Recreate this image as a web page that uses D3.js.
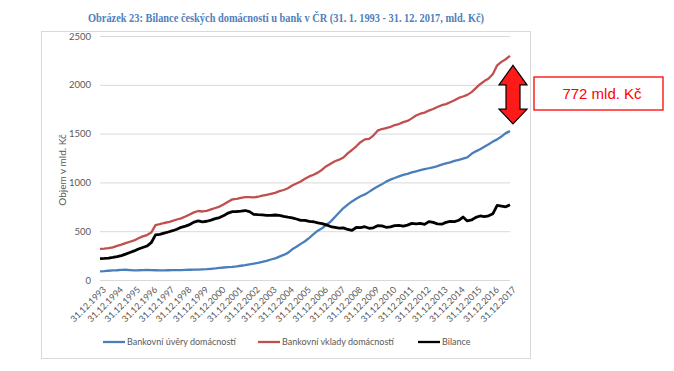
<!DOCTYPE html>
<html>
<head>
<meta charset="utf-8">
<script src="https://cdn.jsdelivr.net/npm/d3@7"></script>
<style>
  body { margin: 0; background: #fff; }
  svg { display: block; }
</style>
</head>
<body>
<svg id="chart" width="674" height="371"></svg>
<script>
// year-end labels on the category axis
const years = [1993, 1994, 1995, 1996, 1997, 1998, 1999, 2000, 2001, 2002, 2003, 2004, 2005,
  2006, 2007, 2008, 2009, 2010, 2011, 2012, 2013, 2014, 2015, 2016, 2017];
const yTicks = [0, 500, 1000, 1500, 2000, 2500];

// quarterly readings (mld. Kč), first one at 31.12.1993, last at 31.12.2017
const loans = [88, 91, 95, 98, 100, 103, 105, 102, 99, 100, 102, 104, 102, 100, 98, 99, 100, 101, 102, 102,
  104, 105, 106, 107, 109, 111, 115, 119, 124, 128, 131, 134, 139, 146, 152, 160, 167, 176, 186, 196,
  210, 221, 240, 257, 278, 315, 341, 370, 397, 432, 469, 505, 530, 566, 598, 645, 692, 737, 772, 805,
  833, 858, 877, 903, 933, 957, 980, 1008, 1028, 1045, 1061, 1077, 1088, 1103, 1114, 1125, 1135, 1145, 1155, 1166,
  1182, 1195, 1206, 1220, 1230, 1243, 1256, 1293, 1318, 1340, 1365, 1390, 1418, 1441, 1470, 1505, 1525];
const deposits = [318, 321, 327, 335, 350, 362, 378, 392, 405, 428, 447, 460, 486, 562, 572, 584, 592, 606, 620, 632,
  650, 672, 693, 707, 702, 708, 723, 738, 752, 776, 802, 826, 832, 841, 849, 850, 846, 853, 864, 872,
  883, 893, 910, 922, 940, 968, 988, 1010, 1038, 1061, 1078, 1100, 1130, 1166, 1192, 1217, 1233, 1255, 1298, 1332,
  1370, 1412, 1441, 1446, 1480, 1530, 1547, 1557, 1568, 1588, 1598, 1618, 1630, 1656, 1685, 1704, 1715, 1736, 1752, 1773,
  1791, 1802, 1822, 1841, 1866, 1880, 1897, 1925, 1965, 2006, 2038, 2064, 2110, 2200, 2235, 2262, 2296];
const balance = [218, 221, 225, 232, 240, 250, 265, 282, 298, 318, 333, 348, 382, 462, 468, 480, 492, 505, 520, 540,
  552, 568, 593, 606, 595, 602, 614, 628, 640, 660, 686, 700, 702, 705, 712, 700, 672, 669, 668, 663,
  662, 666, 662, 652, 644, 637, 625, 611, 610, 600, 597, 585, 578, 565, 548, 540, 532, 534, 518, 508,
  538, 537, 546, 530, 535, 556, 555, 540, 545, 558, 560, 552, 562, 580, 575, 580, 570, 598, 590, 575,
  572, 590, 600, 599, 612, 645, 605, 615, 642, 656, 650, 658, 680, 765, 758, 750, 770];

const seriesNames = ['Bankovní úvěry domácností', 'Bankovní vklady domácností', 'Bilance'];
const seriesColors = ['#4a7ebb', '#c0504d', '#000000'];
const gapLabel = '772 mld. Kč';

const svg = d3.select('#chart');
const grey = '#595959';

// outer chart frame
svg.append('rect')
  .attr('x', 41.5).attr('y', 31.5)
  .attr('width', 489).attr('height', 327)
  .attr('fill', '#fff').attr('stroke', '#d9d9d9');

svg.append('text')
  .attr('x', 88).attr('y', 22)
  .attr('textLength', 396).attr('lengthAdjust', 'spacingAndGlyphs')
  .style('font-family', 'Liberation Serif, serif')
  .style('font-weight', 'bold')
  .style('font-size', '11.5px')
  .attr('fill', '#4f81bd')
  .text('Obrázek 23: Bilance českých domácností u bank v ČR (31. 1. 1993 - 31. 12. 2017, mld. Kč)');

const x = d3.scaleLinear().domain([0, (years.length - 1) * 12]).range([100, 510]);
const y = d3.scaleLinear().domain([0, 2500]).range([280, 36]);

// y axis with gridlines
const gy = svg.append('g')
  .attr('transform', 'translate(100,0)')
  .call(d3.axisLeft(y).tickValues(yTicks).tickFormat(d3.format('d')).tickSize(-410).tickPadding(9));
gy.select('.domain').remove();
gy.selectAll('.tick line').attr('stroke', '#d9d9d9');
gy.selectAll('.tick text')
  .attr('fill', grey)
  .style('font-family', 'Lato, sans-serif')
  .style('font-size', '9.5px');

svg.append('text')
  .attr('transform', 'translate(66,170) rotate(-90)')
  .attr('text-anchor', 'middle')
  .attr('fill', grey)
  .style('font-family', 'Lato, sans-serif')
  .style('font-size', '10px')
  .text('Objem v mld. Kč');

// x axis labels, one per year end
const gx = svg.append('g')
  .attr('transform', 'translate(0,282)')
  .call(d3.axisBottom(x)
    .tickValues(years.map((d, i) => i * 12))
    .tickFormat((d, i) => '31.12.' + years[i])
    .tickSize(0));
gx.select('.domain').remove();
gx.selectAll('.tick text')
  .attr('fill', grey)
  .style('font-family', 'Lato, sans-serif')
  .style('font-size', '9px')
  .attr('text-anchor', 'end')
  .attr('dy', '0.35em')
  .attr('y', 0)
  .attr('transform', 'translate(4,6) rotate(-45)');

const line = d3.line()
  .x((d, i) => x(i * 3))
  .y(d => y(d));

[loans, deposits, balance].forEach((vals, s) => {
  svg.append('path')
    .datum(vals)
    .attr('fill', 'none')
    .attr('stroke', seriesColors[s])
    .attr('stroke-width', s === 2 ? 2.8 : 2.3)
    .attr('stroke-linejoin', 'round')
    .attr('d', line);
});

// legend
const legendX = [103, 258, 418];
const lg = svg.append('g');
seriesNames.forEach((name, s) => {
  lg.append('line')
    .attr('x1', legendX[s]).attr('x2', legendX[s] + 22)
    .attr('y1', 342).attr('y2', 342)
    .attr('stroke', seriesColors[s]).attr('stroke-width', 2.3);
  lg.append('text')
    .attr('x', legendX[s] + 24).attr('y', 345)
    .attr('fill', grey)
    .style('font-family', 'Lato, sans-serif')
    .style('font-size', '9px')
    .text(name);
});

// double arrow between the two series ends
const ax = 513, headW = 14, shaftW = 7;
const arrTop = y(2200), topHead = y(2000), botHead = y(1750), arrBot = y(1600);
svg.append('polygon')
  .attr('points', [
    [ax, arrTop], [ax + headW, topHead], [ax + shaftW, topHead], [ax + shaftW, botHead],
    [ax + headW, botHead], [ax, arrBot], [ax - headW, botHead], [ax - shaftW, botHead],
    [ax - shaftW, topHead], [ax - headW, topHead]
  ].map(p => p.join(',')).join(' '))
  .attr('fill', '#ff1a1a')
  .attr('stroke', '#000')
  .attr('stroke-width', 1.2)
  .attr('stroke-linejoin', 'miter');

svg.append('rect')
  .attr('x', 534).attr('y', 77)
  .attr('width', 129).attr('height', 33)
  .attr('fill', '#fff')
  .attr('stroke', '#ff0000')
  .attr('stroke-width', 1.3);
svg.append('text')
  .attr('x', 602).attr('y', 99)
  .attr('text-anchor', 'middle')
  .attr('fill', '#ff0000')
  .style('font-family', 'Liberation Sans, Arial, sans-serif')
  .style('font-size', '15px')
  .text(gapLabel);
</script>
</body>
</html>
